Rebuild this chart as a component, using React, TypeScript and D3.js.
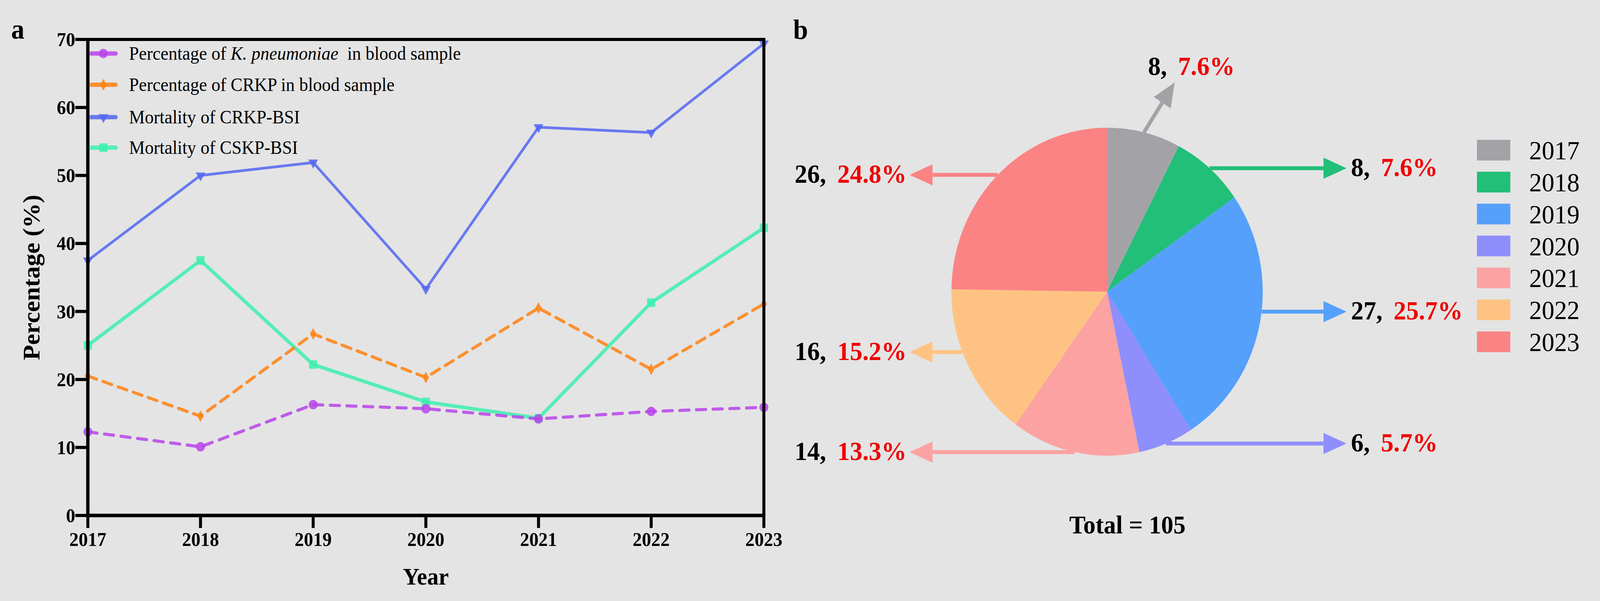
import React from "react";
import * as d3 from "d3";

// ---- data (panel a) ----
const years = ["2017", "2018", "2019", "2020", "2021", "2022", "2023"];
const kpnPercent = [12.3, 10.1, 16.3, 15.7, 14.2, 15.3, 15.9];
const crkpPercent = [20.5, 14.6, 26.7, 20.3, 30.5, 21.5, 31.1];
const crkpMortality = [37.5, 50.0, 51.9, 33.3, 57.1, 56.3, 69.4];
const cskpMortality = [25.0, 37.5, 22.2, 16.7, 14.3, 31.3, 42.3];
const yTicks = [0, 10, 20, 30, 40, 50, 60, 70];

// ---- data (panel b) ----
const pieYears = ["2017", "2018", "2019", "2020", "2021", "2022", "2023"];
const pieCounts = [8, 8, 27, 6, 14, 16, 26];
const pieColors = ["#A3A3A7", "#21BF78", "#55A0FB", "#8F8EFD", "#FCA2A2", "#FEC382", "#FB8383"];

const W = 4317;
const H = 1539;
const FONT = "'Times New Roman', 'Liberation Serif', serif";
const BG = "#E4E4E4";

// line chart frame
const plot = { left: 237, right: 2061, top: 101, bottom: 1320 };
const x = d3.scalePoint<string>().domain(years).range([plot.left, plot.right]);
const y = d3.scaleLinear().domain([0, 70]).range([plot.bottom, plot.top]);

const series = [
  { name: "kpn", values: kpnPercent, color: "#B944EA", dash: "25 20", width: 8, symbol: d3.symbolCircle, size: 460, rotate: 0 },
  { name: "crkp", values: crkpPercent, color: "#FF8110", dash: "25 18", width: 8, symbol: d3.symbolDiamond, size: 260, rotate: 0 },
  { name: "crkpMort", values: crkpMortality, color: "#5466F1", dash: null, width: 7, symbol: d3.symbolTriangle, size: 300, rotate: 180 },
  { name: "cskpMort", values: cskpMortality, color: "#3DEFAE", dash: null, width: 9, symbol: d3.symbolSquare, size: 480, rotate: 0 },
];
const drawOrder = [3, 2, 1, 0];

// pie layout
const pieCx = 2987;
const pieCy = 747;
const pieR = 420;
// annotation layout per slice: side of the label and a small angle nudge for the arrow start
const labelSide = ["up", "right", "right", "right", "left", "left", "left"];
const arrowNudge = [0, 0, -0.073, 0, 0, 0.087, 0];

function arrowHead(x1: number, y1: number, x2: number, y2: number, len = 62, half = 27) {
  const dx = x2 - x1;
  const dy = y2 - y1;
  const d = Math.hypot(dx, dy);
  const ux = dx / d;
  const uy = dy / d;
  const bx = x2 - ux * len;
  const by = y2 - uy * len;
  return {
    bx,
    by,
    points: `${x2},${y2} ${bx - uy * half},${by + ux * half} ${bx + uy * half},${by - ux * half}`,
  };
}

const LineChart: React.FC = () => {
  const line = d3
    .line<number>()
    .x((_, i) => x(years[i]) as number)
    .y((d) => y(d));

  const legendItems = [
    { idx: 0, label: (<>Percentage of <tspan fontStyle="italic">K. pneumoniae</tspan>{"\u00a0 in blood sample"}</>) },
    { idx: 1, label: "Percentage of CRKP in blood sample" },
    { idx: 2, label: "Mortality of CRKP-BSI" },
    { idx: 3, label: "Mortality of CSKP-BSI" },
  ];
  const legendY = [137, 217, 300, 378];

  return (
    <g fontFamily={FONT}>
      <text x={30} y={99} fontSize={72} fontWeight="bold">a</text>

      {/* series */}
      {drawOrder.map((si) => {
        const s = series[si];
        const sym = d3.symbol().type(s.symbol).size(s.size)() as string;
        return (
          <g key={s.name}>
            <path
              d={line(s.values) as string}
              fill="none"
              stroke={s.color}
              strokeWidth={s.width}
              strokeDasharray={s.dash ?? undefined}
              strokeLinecap={s.dash ? "round" : "butt"}
              strokeLinejoin="round"
              opacity={0.85}
            />
            {s.values.map((v, i) => (
              <path
                key={i}
                d={sym}
                transform={`translate(${x(years[i])},${y(v)}) rotate(${s.rotate})`}
                fill={s.color}
                opacity={0.85}
              />
            ))}
          </g>
        );
      })}

      {/* frame */}
      <line x1={plot.left} x2={plot.right + 4} y1={plot.top} y2={plot.top} stroke="#000" strokeWidth={8} />
      <line x1={plot.right} x2={plot.right} y1={plot.top - 4} y2={plot.bottom} stroke="#000" strokeWidth={8} />
      <line x1={plot.left} x2={plot.left} y1={plot.top - 4} y2={plot.bottom + 4} stroke="#000" strokeWidth={9} />
      <line x1={plot.left - 4} x2={plot.right + 4} y1={plot.bottom} y2={plot.bottom} stroke="#000" strokeWidth={9} />

      {/* y axis */}
      {yTicks.map((t) => (
        <g key={t}>
          <line x1={plot.left - 34} x2={plot.left} y1={y(t)} y2={y(t)} stroke="#000" strokeWidth={8} />
          <text x={plot.left - 34} y={y(t)} dy="0.34em" textAnchor="end" fontSize={50} fontWeight="bold">
            {t}
          </text>
        </g>
      ))}
      {/* x axis */}
      {years.map((yr) => (
        <g key={yr}>
          <line x1={x(yr)} x2={x(yr)} y1={plot.bottom} y2={plot.bottom + 32} stroke="#000" strokeWidth={8} />
          <text x={x(yr)} y={1398} textAnchor="middle" fontSize={50} fontWeight="bold">
            {yr}
          </text>
        </g>
      ))}
      <text x={x("2020")} y={1497} textAnchor="middle" fontSize={62} fontWeight="bold">Year</text>
      <text
        transform={`translate(106,${(plot.top + plot.bottom) / 2}) rotate(-90)`}
        textAnchor="middle"
        fontSize={64}
        fontWeight="bold"
      >
        Percentage (%)
      </text>

      {/* legend */}
      {legendItems.map((item, k) => {
        const s = series[item.idx];
        const sym = d3.symbol().type(s.symbol).size(s.size)() as string;
        return (
          <g key={k} transform={`translate(0,${legendY[k]})`}>
            <line x1={246} x2={312} y1={0} y2={0} stroke={s.color} strokeWidth={11} strokeLinecap="round" opacity={0.85} />
            <path d={sym} transform={`translate(279,0) rotate(${s.rotate})`} fill={s.color} opacity={0.85} />
            <text x={348} y={0} dy="0.33em" fontSize={48}>
              {item.label}
            </text>
          </g>
        );
      })}
    </g>
  );
};

const PieChart: React.FC = () => {
  const total = d3.sum(pieCounts);
  const arcs = d3.pie<number>().sort(null)(pieCounts);
  const arc = d3.arc<d3.PieArcDatum<number>>().innerRadius(0).outerRadius(pieR);

  return (
    <g fontFamily={FONT}>
      <text x={2140} y={100} fontSize={72} fontWeight="bold">b</text>
      <g transform={`translate(${pieCx},${pieCy})`}>
        {arcs.map((a, i) => (
          <path key={i} d={arc(a) as string} fill={pieColors[i]} />
        ))}
      </g>

      {arcs.map((a, i) => {
        const ang = (a.startAngle + a.endAngle) / 2 + arrowNudge[i];
        const sx = pieCx + pieR * Math.sin(ang);
        const sy = pieCy - pieR * Math.cos(ang);
        let tx: number;
        let ty: number;
        if (labelSide[i] === "up") {
          tx = sx + 83;
          ty = sy - 128;
        } else if (labelSide[i] === "right") {
          tx = 3633;
          ty = sy;
        } else {
          tx = 2454;
          ty = sy;
        }
        const head = arrowHead(sx, sy, tx, ty);
        const pct = ((pieCounts[i] / total) * 100).toFixed(1) + "%";
        let lx = tx;
        let ly = ty + 20;
        let anchor: "start" | "end" | "middle" = "start";
        if (labelSide[i] === "up") {
          lx = tx + 45;
          ly = ty - 19;
          anchor = "middle";
        } else if (labelSide[i] === "right") {
          lx = tx + 12;
        } else {
          lx = tx - 8;
          anchor = "end";
        }
        return (
          <g key={i}>
            <line x1={sx} y1={sy} x2={head.bx} y2={head.by} stroke={pieColors[i]} strokeWidth={10} />
            <polygon points={head.points} fill={pieColors[i]} />
            <text x={lx} y={ly} textAnchor={anchor} fontSize={68} fontWeight="bold">
              <tspan fill="#000">{pieCounts[i]},</tspan>
              <tspan fill="#F00000" dx={30}>{pct}</tspan>
            </text>
          </g>
        );
      })}

      <text x={3042} y={1366} textAnchor="middle" fontSize={66} fontWeight="bold">
        Total = {total}
      </text>

      {/* legend */}
      {pieYears.map((yr, i) => {
        const top = 358 + i * 81.8;
        return (
          <g key={yr}>
            <rect x={3985} y={top} width={90} height={53} fill={pieColors[i]} />
            <text x={4126} y={top + 26.5} dy="0.35em" fontSize={68}>
              {yr}
            </text>
          </g>
        );
      })}
    </g>
  );
};

const App: React.FC = () => {
  return (
    <div style={{ position: "fixed", left: 0, top: 0, width: "100%", height: "100%", overflow: "hidden", background: BG }}>
      <svg
        width="100%"
        height="100%"
        viewBox={`0 0 ${W} ${H}`}
        preserveAspectRatio="none"
        style={{ display: "block" }}
      >
        <rect x={0} y={0} width={W} height={H} fill={BG} />
        <LineChart />
        <PieChart />
      </svg>
    </div>
  );
};

export default App;
